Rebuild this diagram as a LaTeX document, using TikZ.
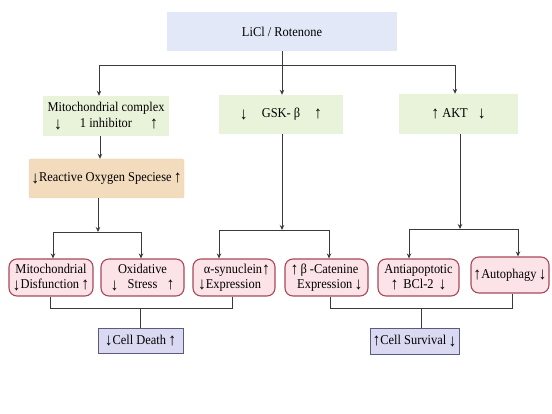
\documentclass[tikz,border=0pt]{standalone}
\usepackage{fontspec}
\setmainfont{Liberation Serif}[FakeStretch=0.92]
\usetikzlibrary{arrows.meta}
\definecolor{toptint}{HTML}{E3E8F8}
\definecolor{greentint}{HTML}{E9F3DA}
\definecolor{tantint}{HTML}{F3DCBE}
\definecolor{tanline}{HTML}{EAD2B4}
\definecolor{pinktint}{HTML}{FBE3E8}
\definecolor{pinkline}{HTML}{A8485A}
\definecolor{lavtint}{HTML}{D9D9F2}
\definecolor{lavline}{HTML}{5A5A80}
\definecolor{linegray}{HTML}{3A3A3A}
\tikzset{
    every node/.style={font=\fontsize{13.5}{15}\selectfont, inner sep=0pt, align=center},
    causebox/.style={fill=greentint},
    rosbox/.style={fill=tantint, draw=tanline, rounded corners=2pt},
    effectbox/.style={fill=pinktint, draw=pinkline, line width=1.1pt, rounded corners=8pt},
    outcomebox/.style={fill=lavtint, draw=lavline, line width=0.9pt},
    flowline/.style={draw=linegray, line width=0.9pt},
    flowarrow/.style={flowline, -{Stealth[length=5pt, width=4.5pt]}}
}
\newcommand{\incr}{\raisebox{-1pt}{\fontsize{17}{17}\selectfont ↑}}
\newcommand{\decr}{\raisebox{-1.5pt}{\fontsize{17}{17}\selectfont ↓}}

\begin{document}
\begin{tikzpicture}[x=1pt, y=-1pt]
    \useasboundingbox (0,0) rectangle (552,414);
    % top and first level
    \node[fill=toptint, minimum width=230pt, minimum height=39pt] (licl) at (282,31.5) {LiCl / Rotenone};
    \node[causebox, minimum width=126pt, minimum height=40pt] (mito) at (106,116) {Mitochondrial complex\\[1pt] \makebox[104pt]{\decr\hfill 1 inhibitor\hfill \incr}};
    \node[causebox, minimum width=124pt, minimum height=39pt] (gsk) at (281,114.5) {\decr\hspace{14pt}GSK- β\hspace{14pt}\incr};
    \node[causebox, minimum width=119pt, minimum height=40pt] (akt) at (458.5,114) {\incr\ AKT\hspace{10pt}\decr};
    \node[rosbox, minimum width=155pt, minimum height=39pt] (ros) at (106.5,178.5) {\decr Reactive Oxygen Speciese\,\incr};
    % effects
    \node[effectbox, minimum width=84pt, minimum height=37pt] (mdis) at (51,277.5) {Mitochondrial\\\decr Disfunction\,\incr};
    \node[effectbox, minimum width=83pt, minimum height=37pt] (oxs) at (142.5,277.5) {Oxidative\\\makebox[64pt]{\decr\hfill Stress\hfill \incr}};
    \node[effectbox, minimum width=82pt, minimum height=37pt] (syn) at (234,277.5) {\makebox[72pt]{\hfill α-synuclein\incr}\\\makebox[72pt]{\decr Expression\hfill}};
    \node[effectbox, minimum width=83pt, minimum height=37pt] (cat) at (326.5,277.5) {\makebox[72pt]{\incr\,β -Catenine\hfill}\\\makebox[72pt]{\hfill Expression\,\decr}};
    \node[effectbox, minimum width=81pt, minimum height=37pt] (bcl) at (418.5,277.5) {Antiapoptotic\\\makebox[56pt]{\incr\hfill BCl-2\hfill \decr}};
    \node[effectbox, minimum width=78pt, minimum height=36pt] (auto) at (510,275) {\incr Autophagy\,\decr};
    % outcomes
    \node[outcomebox, minimum width=85pt, minimum height=25pt] (death) at (140.5,340.5) {\decr Cell Death\,\incr};
    \node[outcomebox, minimum width=89pt, minimum height=26pt] (surv) at (414.5,341) {\incr Cell Survival\,\decr};
    % connectors
    \coordinate (topbus) at (282,65);
    \draw[flowarrow] (licl.south) -- (licl.south |- gsk.north);
    \draw[flowarrow] (topbus) -| ([xshift=-7pt]mito.north);
    \draw[flowarrow] (topbus) -| ([xshift=-3.5pt]akt.north);
    \draw[flowarrow] ([xshift=-6pt]mito.south) -- ([xshift=-6pt]mito.south |- ros.north);
    \coordinate (rosbus) at (98,232);
    \draw[flowarrow] (ros.south -| rosbus) -- (rosbus);
    \draw[flowarrow] (rosbus) -| ([xshift=2pt]mdis.north);
    \draw[flowarrow] (rosbus) -| ([xshift=-1.5pt]oxs.north);
    \coordinate (gskbus) at (282,230);
    \draw[flowarrow] (gsk.south -| gskbus) -- (gskbus);
    \draw[flowarrow] (gskbus) -| ([xshift=-15pt]syn.north);
    \draw[flowarrow] (gskbus) -| ([xshift=2.5pt]cat.north);
    \coordinate (aktbus) at (460,229);
    \draw[flowarrow] (akt.south -| aktbus) -- (aktbus);
    \draw[flowarrow] (aktbus) -| ([xshift=-9.5pt]bcl.north);
    \draw[flowarrow] (aktbus) -| ([xshift=8pt]auto.north);
    \coordinate (deathbus) at (140,308);
    \draw[flowline] ([xshift=-1pt]mdis.south) |- (deathbus);
    \draw[flowline] ([xshift=-2pt]syn.south) |- (deathbus);
    \draw[flowline] (deathbus) -- (deathbus |- death.north);
    \coordinate (survbus) at (421,308);
    \draw[flowline] ([xshift=3.5pt]cat.south) |- (survbus);
    \draw[flowline] ([xshift=2pt]auto.south) |- (survbus);
    \draw[flowline] (survbus) -- (survbus |- surv.north);
\end{tikzpicture}
\end{document}
